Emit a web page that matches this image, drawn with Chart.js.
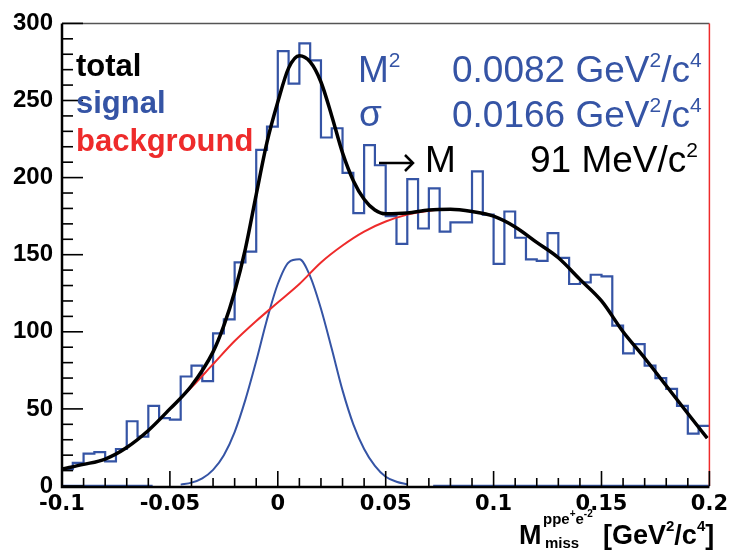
<!DOCTYPE html>
<html>
<head>
<meta charset="utf-8">
<script src="https://cdn.jsdelivr.net/npm/chart.js@4/dist/chart.umd.min.js"></script>
<style>
  html, body { margin: 0; padding: 0; background: #fff; }
  canvas { display: block; }
</style>
</head>
<body>
<canvas id="grafica" width="734" height="552"></canvas>
<script>
// histogram: 60 bins of 0.005 from -0.1 to 0.2
const binLow = -0.1;
const binWidth = 0.005;
const binCounts = [11, 15, 21, 22, 16, 24, 42, 32, 52, 44,
                   43, 71, 78, 68, 99, 108, 145, 152, 218, 233,
                   282, 261, 287, 276, 226, 232, 203, 177, 221, 208,
                   175, 157, 199, 167, 193, 165, 171, 171, 204, 176,
                   144, 178, 161, 147, 146, 164, 148, 131, 132, 137,
                   136, 104, 86, 92, 78, 70, 63, 52, 34, 39];

// total fit (black)
const totalX = [-0.1, -0.09, -0.08, -0.07, -0.06, -0.05, -0.04, -0.03, -0.025, -0.02,
                -0.015, -0.01, -0.005, 0, 0.005, 0.01, 0.015, 0.02, 0.025, 0.03,
                0.035, 0.04, 0.045, 0.05, 0.06, 0.07, 0.08, 0.09, 0.1, 0.11,
                0.12, 0.13, 0.14, 0.15, 0.16, 0.17, 0.18, 0.19, 0.199];
const totalY = [11, 14, 17.5, 25, 36, 50, 65, 87, 104, 126,
                154, 189, 223, 249, 271, 279, 275, 262, 240, 216,
                198, 186, 179, 176.5, 177, 179, 179.5, 178, 175, 168,
                158, 148, 134, 120, 100, 83, 65, 47, 31];

// background (red)
const bgX = [-0.045, -0.04, -0.03, -0.02, -0.01, 0, 0.01, 0.02, 0.03, 0.04,
             0.05, 0.06, 0.07, 0.08, 0.09, 0.1, 0.11, 0.12, 0.13, 0.14,
             0.15, 0.16, 0.17, 0.18, 0.19, 0.199];
const bgY = [57, 64, 79, 94, 107, 119, 131, 145, 156, 165,
             171.5, 176, 178.5, 179.5, 178, 175, 168, 158, 148, 134,
             120, 100, 83, 65, 47, 31];

// signal (blue gaussian)
const signalX = [-0.045, -0.04, -0.035, -0.03, -0.025, -0.02, -0.015, -0.01, -0.005, 0,
                 0.005, 0.01, 0.015, 0.02, 0.025, 0.03, 0.035, 0.04, 0.045, 0.05,
                 0.055, 0.06];
const signalY = [0.9, 2.2, 5, 10.5, 20, 35, 56, 81, 108, 131,
                 145, 147, 136, 115, 89, 62, 40, 24, 13, 6,
                 2.8, 1.1];

// blue zero line pieces along the axis
const zeroX = [-0.1, -0.058, null, 0.072, 0.2];

const AZUL = "#3554a5";
const ROJO = "#ee2b2b";

const pares = (xs, ys) => xs.map((x, i) => ({ x: x, y: ys[i] }));

// puntos en el borde izquierdo de cada bin + borde final
const histo = binCounts.map((v, i) => ({ x: binLow + i * binWidth, y: v }));
histo.push({ x: binLow + binCounts.length * binWidth, y: binCounts[binCounts.length - 1] });

const ceros = zeroX.map(x => x === null ? { x: -0.05, y: null } : { x: x, y: 0 });

const esMayor = (v, paso) => Math.abs(Math.round(v / paso) * paso - v) < 1e-6;

// texto con super/subindices
function textoRico(ctx, partes, x, y) {
  let cx = x;
  partes.forEach(p => {
    ctx.font = (p.bold ? "bold " : "") + p.size + "px 'Liberation Sans'";
    ctx.fillStyle = p.color;
    ctx.fillText(p.t, cx, y + (p.dy || 0));
    cx += ctx.measureText(p.t).width;
  });
}

const marco = {
  id: "marco",
  afterDatasetsDraw(chart) {
    const ctx = chart.ctx;
    const { left, right, top, bottom } = chart.chartArea;
    const sx = chart.scales.x, sy = chart.scales.y;
    ctx.save();
    ctx.lineCap = "butt";
    // marco arriba + derecha
    ctx.strokeStyle = "#555";
    ctx.lineWidth = 1.5;
    ctx.beginPath(); ctx.moveTo(left, top); ctx.lineTo(right, top); ctx.stroke();
    ctx.strokeStyle = ROJO;
    ctx.beginPath(); ctx.moveTo(right, top); ctx.lineTo(right, bottom); ctx.stroke();
    // ejes
    ctx.strokeStyle = "#000";
    ctx.lineWidth = 2.5;
    ctx.beginPath(); ctx.moveTo(left, top); ctx.lineTo(left, bottom + 1); ctx.lineTo(right, bottom + 1); ctx.stroke();
    ctx.lineWidth = 1.6;
    sx.ticks.forEach(t => {
      const px = sx.getPixelForValue(t.value);
      const len = esMayor(t.value, 0.05) ? 15 : 8;
      ctx.beginPath(); ctx.moveTo(px, bottom); ctx.lineTo(px, bottom - len); ctx.stroke();
    });
    sy.ticks.forEach(t => {
      const py = sy.getPixelForValue(t.value);
      const len = esMayor(t.value, 50) ? 21 : 11;
      ctx.beginPath(); ctx.moveTo(left, py); ctx.lineTo(left + len, py); ctx.stroke();
    });

    // leyenda
    ctx.textBaseline = "alphabetic";
    ctx.textAlign = "left";
    ctx.font = "bold 31px 'Liberation Sans'";
    ctx.fillStyle = "#000"; ctx.fillText("total", 76, 76);
    ctx.fillStyle = AZUL;   ctx.fillText("signal", 76, 113);
    ctx.fillStyle = ROJO;   ctx.fillText("background", 76, 151);

    // resultados del ajuste
    const big = 37, sup = 21;
    textoRico(ctx, [{ t: "M", size: big, color: AZUL }, { t: "2", size: sup, color: AZUL, dy: -15 }], 358, 82);
    textoRico(ctx, [{ t: "σ", size: big, color: AZUL }], 359, 126);
    const unidades = c => [{ t: " GeV", size: big, color: c }, { t: "2", size: sup, color: c, dy: -15 },
                           { t: "/c", size: big, color: c }, { t: "4", size: sup, color: c, dy: -15 }];
    textoRico(ctx, [{ t: "0.0082", size: big, color: AZUL }].concat(unidades(AZUL)), 452, 82);
    textoRico(ctx, [{ t: "0.0166", size: big, color: AZUL }].concat(unidades(AZUL)), 452, 127);
    textoRico(ctx, [{ t: "91 MeV/c", size: big, color: "#000" }, { t: "2", size: sup, color: "#000", dy: -15 }], 530, 172);
    textoRico(ctx, [{ t: "M", size: big, color: "#000" }], 425, 172);
    // flecha
    ctx.strokeStyle = "#000";
    ctx.lineWidth = 2.5;
    ctx.beginPath(); ctx.moveTo(379, 163); ctx.lineTo(413, 163); ctx.stroke();
    ctx.beginPath(); ctx.moveTo(405, 155); ctx.lineTo(413, 163); ctx.lineTo(405, 171); ctx.stroke();

    // titulo eje x
    textoRico(ctx, [{ t: "M", size: 27, bold: true, color: "#000" }], 519, 544);
    textoRico(ctx, [{ t: "ppe", size: 15, bold: true, color: "#000" },
                    { t: "+", size: 10, bold: true, color: "#000", dy: -7 },
                    { t: "e", size: 15, bold: true, color: "#000" },
                    { t: "-2", size: 10, bold: true, color: "#000", dy: -7 }], 543, 524);
    textoRico(ctx, [{ t: "miss", size: 15, bold: true, color: "#000" }], 545, 548);
    textoRico(ctx, [{ t: "[GeV", size: 27, bold: true, color: "#000" },
                    { t: "2", size: 15, bold: true, color: "#000", dy: -13 },
                    { t: "/c", size: 27, bold: true, color: "#000" },
                    { t: "4", size: 15, bold: true, color: "#000", dy: -13 },
                    { t: "]", size: 27, bold: true, color: "#000" }], 603, 544);
    ctx.restore();
  }
};

Chart.defaults.font.family = "'Liberation Sans'";

new Chart(document.getElementById("grafica"), {
  type: "line",
  data: {
    datasets: [
      { data: pares(totalX, totalY), borderColor: "#000", borderWidth: 3.5, cubicInterpolationMode: "monotone", order: 0 },
      { data: pares(bgX, bgY), borderColor: ROJO, borderWidth: 2, cubicInterpolationMode: "monotone", order: 1 },
      { data: pares(signalX, signalY), borderColor: AZUL, borderWidth: 2, cubicInterpolationMode: "monotone", order: 2 },
      { data: ceros, borderColor: AZUL, borderWidth: 2.5, spanGaps: false, order: 3 },
      { data: histo, borderColor: AZUL, borderWidth: 2.2, stepped: "before", order: 4 }
    ].map(d => Object.assign({ pointRadius: 0, fill: false, clip: false }, d))
  },
  options: {
    responsive: false,
    animation: false,
    layout: { padding: { left: 0, right: 20, top: 20, bottom: 0 } },
    plugins: { legend: { display: false }, tooltip: { enabled: false } },
    scales: {
      x: {
        type: "linear",
        min: -0.1,
        max: 0.2,
        afterFit: s => { s.height = 66; },
        grid: { display: false, drawTicks: false },
        border: { display: false },
        ticks: {
          stepSize: 0.01,
          autoSkip: false,
          maxRotation: 0,
          padding: 6,
          color: "#000",
          font: { family: "'DejaVu Sans'", weight: "bold", size: 21 },
          callback: v => esMayor(v, 0.05) ? String(Number(v.toFixed(2))) : ""
        }
      },
      y: {
        min: 0,
        max: 300,
        afterFit: s => { s.width = 62; },
        grid: { display: false, drawTicks: false },
        border: { display: false },
        ticks: {
          stepSize: 10,
          autoSkip: false,
          padding: 9,
          color: "#000",
          font: { weight: "bold", size: 24 },
          callback: v => esMayor(v, 50) ? String(v) : ""
        }
      }
    }
  },
  plugins: [marco]
});
</script>
</body>
</html>
